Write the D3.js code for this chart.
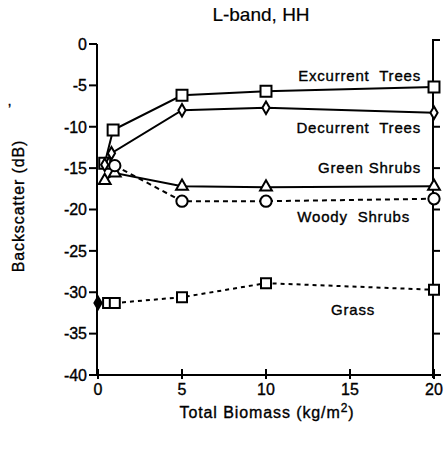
<!DOCTYPE html>
<html>
<head>
<meta charset="utf-8">
<script src="https://cdn.jsdelivr.net/npm/d3@7"></script>
<style>
  body { margin: 0; background: #fff; }
  text { font-family: "Liberation Sans", Arial, sans-serif; fill: #000; stroke: #000; stroke-width: 0.35px; }
</style>
</head>
<body>
<svg id="chart" width="444" height="450"></svg>
<script>
// values
var excurrentX = [0.4, 0.9, 5, 10, 20];
var excurrentY = [-14.4, -10.4, -6.2, -5.7, -5.2];
var decurrentX = [0.4, 0.8, 5, 10, 20];
var decurrentY = [-14.6, -13.2, -8.0, -7.7, -8.3];
var greenX = [0.4, 1, 5, 10, 20];
var greenY = [-16.5, -15.6, -17.2, -17.3, -17.2];
var woodyX = [1, 5, 10, 20];
var woodyY = [-14.7, -19.0, -19.0, -18.7];
var grassX = [0, 0.6, 1, 5, 10, 20];
var grassY = [-31.3, -31.3, -31.3, -30.6, -28.9, -29.7];

var yTicks = [0, -5, -10, -15, -20, -25, -30, -35, -40];
var xTicks = [0, 5, 10, 15, 20];

var seriesNames = ["Excurrent  Trees", "Decurrent  Trees", "Green Shrubs", "Woody  Shrubs", "Grass"];

var svg = d3.select("#chart");

var x = d3.scaleLinear().domain([0, 20]).range([98, 434]);
var y = d3.scaleLinear().domain([0, -40]).range([44, 375]);

// axes
svg.append("line")
  .attr("x1", 97).attr("x2", 97).attr("y1", y(0)).attr("y2", y(-40))
  .attr("stroke", "#000").attr("stroke-width", 2);
svg.append("line")
  .attr("x1", 97).attr("x2", 441).attr("y1", y(-40)).attr("y2", y(-40))
  .attr("stroke", "#000").attr("stroke-width", 2);
svg.append("path")
  .attr("d", "M440," + (y(0) - 4) + "H433V" + (y(-40) + 3))
  .attr("fill", "none").attr("stroke", "#000").attr("stroke-width", 2);

// left ticks + labels
svg.selectAll(".ytick")
  .data(yTicks)
  .enter()
  .append("line")
    .attr("x1", 89).attr("x2", 97)
    .attr("y1", function(d) { return y(d); })
    .attr("y2", function(d) { return y(d); })
    .attr("stroke", "#000").attr("stroke-width", 2);
svg.selectAll(".ylab")
  .data(yTicks)
  .enter()
  .append("text")
    .attr("x", 87)
    .attr("y", function(d) { return y(d); })
    .attr("dy", "0.36em")
    .style("text-anchor", "end")
    .style("font-size", "16px")
    .text(function(d) { return d; });

// right ticks
svg.selectAll(".rtick")
  .data(yTicks.slice(1, 8))
  .enter()
  .append("line")
    .attr("x1", 433).attr("x2", 440)
    .attr("y1", function(d) { return y(d); })
    .attr("y2", function(d) { return y(d); })
    .attr("stroke", "#000").attr("stroke-width", 2);

// bottom ticks + labels
svg.selectAll(".xtick")
  .data(xTicks)
  .enter()
  .append("line")
    .attr("x1", function(d) { return x(d); })
    .attr("x2", function(d) { return x(d); })
    .attr("y1", y(-40) - 6).attr("y2", y(-40) + 4)
    .attr("stroke", "#000").attr("stroke-width", 2);
svg.selectAll(".xlab")
  .data(xTicks)
  .enter()
  .append("text")
    .attr("x", function(d) { return x(d); })
    .attr("y", 395)
    .style("text-anchor", "middle")
    .style("font-size", "16px")
    .text(function(d) { return d; });

// series
var series = [
  {name: seriesNames[0], xs: excurrentX, ys: excurrentY, sym: d3.symbolSquare, size: 120, dash: null},
  {name: seriesNames[1], xs: decurrentX, ys: decurrentY, sym: d3.symbolDiamond, size: 45, dash: null},
  {name: seriesNames[2], xs: greenX, ys: greenY, sym: d3.symbolTriangle, size: 60, dash: null},
  {name: seriesNames[3], xs: woodyX, ys: woodyY, sym: d3.symbolCircle, size: 100, dash: "5,4"},
  {name: seriesNames[4], xs: grassX, ys: grassY, sym: d3.symbolSquare, size: 100, dash: "4,4"}
];

var line = d3.line()
  .x(function(d) { return x(d[0]); })
  .y(function(d) { return y(d[1]); });

series.forEach(function(s) {
  var pts = d3.zip(s.xs, s.ys);
  svg.append("path")
    .attr("d", line(pts))
    .attr("fill", "none")
    .attr("stroke", "#000")
    .attr("stroke-width", 2)
    .attr("stroke-dasharray", s.dash);
  svg.selectAll(null)
    .data(pts)
    .enter()
    .append("path")
      .attr("d", function(d, i) {
        // grass starts with a small filled dot on the axis
        if (s.name === "Grass" && i === 0) return d3.symbol().type(d3.symbolDiamond).size(45)();
        return d3.symbol().type(s.sym).size(s.size)();
      })
      .attr("transform", function(d) { return "translate(" + x(d[0]) + "," + y(d[1]) + ")"; })
      .attr("fill", function(d, i) { return (s.name === "Grass" && i === 0) ? "#000" : "#fff"; })
      .attr("stroke", "#000")
      .attr("stroke-width", 2);
});

// series labels
var labelPos = [[421, 81], [421, 133], [421, 173], [410, 222], [375, 315]];
svg.selectAll(".slab")
  .data(seriesNames)
  .enter()
  .append("text")
    .attr("x", function(d, i) { return labelPos[i][0]; })
    .attr("y", function(d, i) { return labelPos[i][1]; })
    .style("text-anchor", "end")
    .style("font-size", "15px")
    .style("letter-spacing", "0.8px")
    .style("white-space", "pre")
    .text(function(d) { return d; });

// titles
svg.append("text")
  .attr("x", 261).attr("y", 21)
  .style("text-anchor", "middle")
  .style("font-size", "19px")
  .style("stroke-width", "0.2px")
  .text("L-band, HH");

svg.append("text")
  .attr("transform", "translate(24,206) rotate(-90)")
  .style("text-anchor", "middle")
  .style("font-size", "16px")
  .style("letter-spacing", "0.9px")
  .text("Backscatter (dB)");

var xl = svg.append("text")
  .attr("x", 267).attr("y", 418)
  .style("text-anchor", "middle")
  .style("font-size", "16px")
  .style("letter-spacing", "0.9px");
xl.append("tspan").text("Total Biomass (kg/m");
xl.append("tspan").attr("dy", -6).style("font-size", "12px").text("2");
xl.append("tspan").attr("dy", 6).text(")");

// stray mark from the scan
svg.append("text")
  .attr("x", 8).attr("y", 114)
  .style("font-size", "14px")
  .text("\u2019");
</script>
</body>
</html>
